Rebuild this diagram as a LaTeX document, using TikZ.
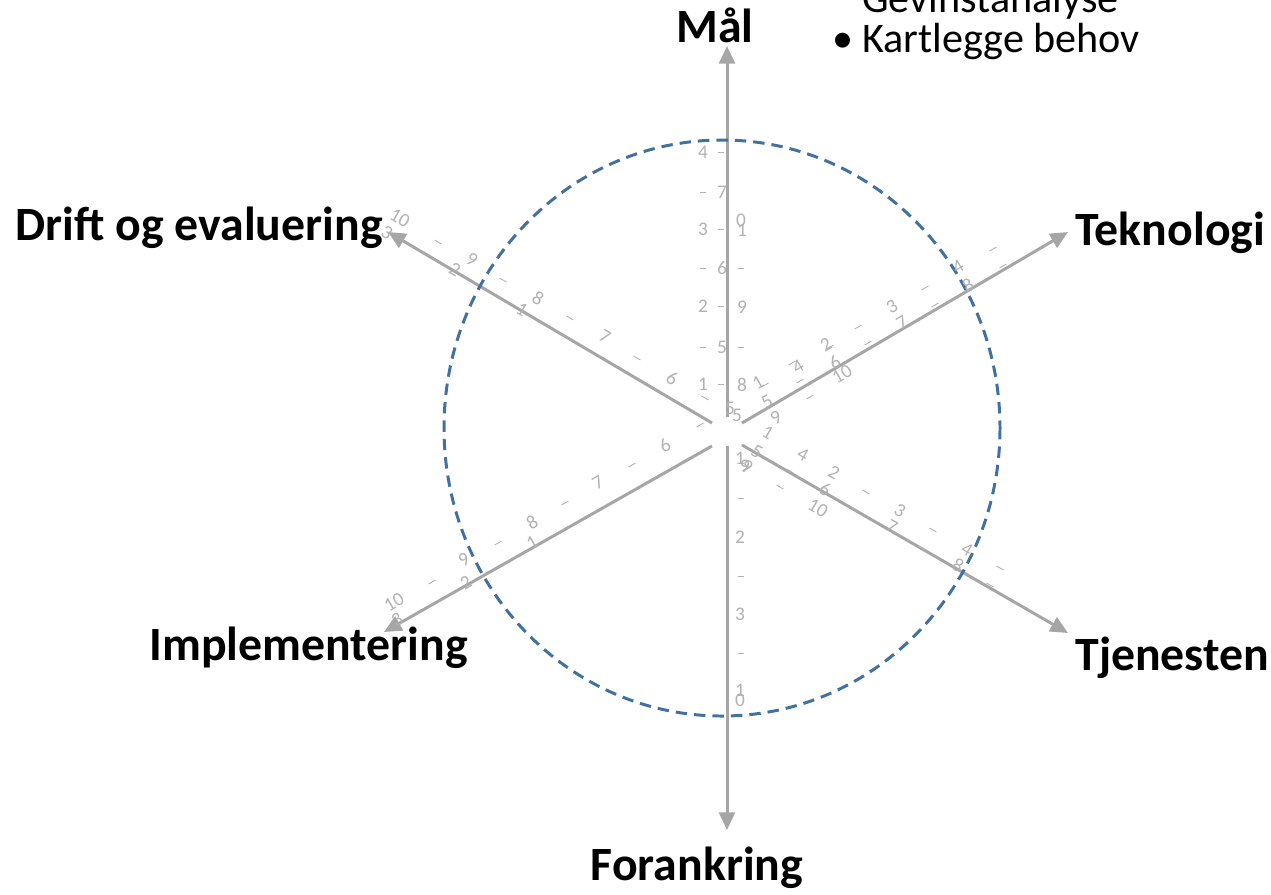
\documentclass[tikz,border=0pt]{standalone}
\usepackage{fontspec}
\setmainfont{Carlito}
\usetikzlibrary{arrows.meta}
\definecolor{axisgray}{RGB}{166,166,166}
\definecolor{ringblue}{RGB}{65,113,160}
\definecolor{numgray}{RGB}{178,178,178}

\begin{document}
\begin{tikzpicture}
		[x=0.02cm, y=-0.02cm,
		axis/.style ={draw=axisgray, line width=1.7pt, -{Triangle[length=10pt,width=9pt]}},
		ring/.style ={draw=ringblue, line width=1.7pt, dash pattern=on 6.5pt off 4pt},
		dim/.style ={inner sep=0pt, font=\bfseries\fontsize{27.2}{31}\selectfont},
		bullet/.style ={inner sep=0pt, font=\fontsize{24}{28}\selectfont},
		num/.style ={inner sep=0pt, text=numgray, font=\fontsize{11}{12}\selectfont},
		minor/.style ={draw=numgray, line width=0.5pt},
		]

		\useasboundingbox (0,0) rectangle (1271,894);

		% axis ends
		\coordinate (m0) at (727,417);
		\coordinate (m1) at (727,46);
		\coordinate (t0) at (742,423);
		\coordinate (t1) at (1068,232);
		\coordinate (j0) at (742,445);
		\coordinate (j1) at (1068,633);
		\coordinate (f0) at (727,446);
		\coordinate (f1) at (727,830);
		\coordinate (i0) at (712,446);
		\coordinate (i1) at (384,632);
		\coordinate (d0) at (712,423);
		\coordinate (d1) at (388,232);

		\draw[axis] (m0) -- (m1);
		\draw[axis] (t0) -- (t1);
		\draw[axis] (j0) -- (j1);
		\draw[axis] (f0) -- (f1);
		\draw[axis] (i0) -- (i1);
		\draw[axis] (d0) -- (d1);

		\draw[ring] (722,428) ellipse [x radius=278, y radius=288];

		% scale numbers
		\foreach \x/\y/\t [count=\i] in {703/384/1, 703/306/2, 703/229/3, 703/152/4,
				722/347/5, 722/268/6, 722/192/7, 742/385/8, 742/307/9, 742/230/1, 741/220/0,
				730/408/5, 737/415/5}
			\node[num] (up\i) at (\x,\y) {\t};
		\foreach \x/\y/\t [count=\i] in {740/458/1, 745/466/9, 740/537/2, 740/614/3,
				740/690/1, 740/700/0}
			\node[num] (dn\i) at (\x,\y) {\t};
		\foreach \x/\y/\t [count=\i] in {758/383/1, 798/367/4, 826/345/2, 892/307/3,
				958/267/4, 767/402/5, 835/362/6, 902/323/7, 968/285/8, 776/418/9, 842/374/10}
			\node[num, rotate=30] (tk\i) at (\x,\y) {\t};
		\foreach \x/\y/\t [count=\i] in {768/433/1, 803/455/4, 834/473/2, 900/511/3,
				967/550/4, 757/452/5, 825/489/6, 892/527/7, 958/565/8, 747/467/9, 818/508/10}
			\node[num, rotate=-30] (tj\i) at (\x,\y) {\t};
		\foreach \x/\y/\t [count=\i] in {672/378/6, 605/337/7, 538/298/8, 472/260/9,
				400/218/10, 522/310/1, 455/270/2, 387/233/3}
			\node[num, rotate=-30] (dr\i) at (\x,\y) {\t};
		\foreach \x/\y/\t [count=\i] in {665/445/6, 598/483/7, 532/522/8, 464/560/9,
				394/602/10, 532/543/1, 466/583/2, 397/620/3}
			\node[num, rotate=30] (im\i) at (\x,\y) {\t};

		% small ticks
		\foreach \x/\y in {721/152, 721/229, 721/306, 721/384, 703/192, 703/268,
				703/347, 741/268, 741/347, 741/498, 741/576, 741/653}
			\draw[minor] (\x-3,\y) -- (\x+3,\y);
		\foreach \x/\y in {765/385, 792/363, 800/381, 810/397, 830/347, 858/327,
				868/343, 925/288, 935/305, 993/249, 1003/266,
				432/582, 498/543, 565/503, 632/465, 700/425}
			\draw[minor, rotate around={30:(\x,\y)}] (\x-4,\y) -- (\x+4,\y);
		\foreach \x/\y in {780/487, 790/471, 855/509, 866/492, 922/548, 933/530,
				990/585, 1000/568,
				438/242, 503/280, 570/318, 637/358, 705/398}
			\draw[minor, rotate around={-30:(\x,\y)}] (\x-4,\y) -- (\x+4,\y);

		% dimension names
		\draw (715,42) node[dim, anchor=base] (mal) {Mål};
		\draw (1075,245) node[dim, anchor=base west] (tek) {Teknologi};
		\draw (1075,670) node[dim, anchor=base west] (tje) {Tjenesten};
		\draw (697,880) node[dim, anchor=base] (for) {Forankring};
		\draw (383,240) node[dim, anchor=base east] (drift) {Drift og evaluering};
		\draw (468,660) node[dim, anchor=base east] (impl) {Implementering};

		% bullet list
		\draw (862,12) node[bullet, anchor=base west] (gev) {Gevinstanalyse};
		\draw (832,52) node[bullet, anchor=base west] (dot) {•};
		\draw (862,52) node[bullet, anchor=base west] (behov) {Kartlegge behov};

	\end{tikzpicture}
\end{document}
